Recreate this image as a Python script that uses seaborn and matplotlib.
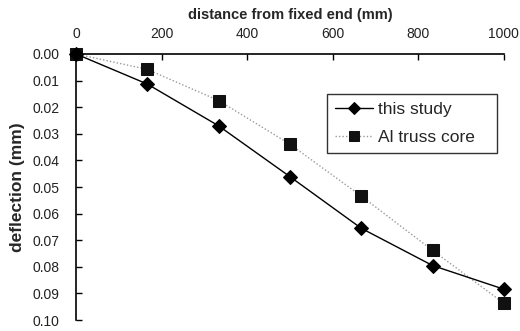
import numpy as np
import pandas as pd
import matplotlib
matplotlib.use("Agg")
import matplotlib.pyplot as plt
import seaborn as sns
from matplotlib.ticker import FormatStrFormatter

distance = [0, 166.7, 333.3, 500, 666.7, 833.3, 1000]
this_study = [0.0, 0.0113, 0.0270, 0.0461, 0.0655, 0.0795, 0.0884]
al_truss = [0.0, 0.0058, 0.0175, 0.0339, 0.0534, 0.0738, 0.0937]
x_ticks = [0, 200, 400, 600, 800, 1000]
y_ticks = [0.00, 0.01, 0.02, 0.03, 0.04, 0.05, 0.06, 0.07, 0.08, 0.09, 0.10]

sns.set_theme(style="white")
plt.rcParams['font.family'] = ['Liberation Sans', 'DejaVu Sans']

df = pd.DataFrame({
    "distance": distance * 2,
    "deflection": this_study + al_truss,
    "series": ["this study"] * len(distance) + ["Al truss core"] * len(distance),
})

fig = plt.figure(figsize=(5.2, 3.31), dpi=100)
ax = fig.add_axes([0.146, 0.033, 0.823, 0.804])

sns.lineplot(data=df[df.series == "this study"], x="distance", y="deflection",
             ax=ax, color="black", lw=1.0, marker="D", markersize=7.5,
             markeredgecolor="black", label="this study", clip_on=False, zorder=4)
sns.lineplot(data=df[df.series == "Al truss core"], x="distance", y="deflection",
             ax=ax, color="#9a9a9a", lw=1.0, linestyle=(0, (1, 1.5)), marker="s",
             markersize=9, markerfacecolor="#111111", markeredgecolor="#111111",
             label="Al truss core", clip_on=False, zorder=3)

ax.set_xlim(0, 1000)
ax.set_ylim(0.10, 0.0)
ax.set_xticks(x_ticks)
ax.set_yticks(y_ticks)
ax.yaxis.set_major_formatter(FormatStrFormatter("%.2f"))
ax.xaxis.set_ticks_position("top")
ax.xaxis.set_label_position("top")
ax.tick_params(axis="x", direction="in", length=4, width=1, color="black",
               labelsize=10, pad=9, top=True, bottom=False, labelcolor="#222222")
ax.tick_params(axis="y", direction="in", length=4, width=1, color="black",
               labelsize=10, pad=12, left=True, labelcolor="#222222")
for s in ["bottom", "right"]:
    ax.spines[s].set_visible(False)
for s in ["top", "left"]:
    ax.spines[s].set_color("black")
    ax.spines[s].set_linewidth(1.2)

ax.set_xlabel("distance from fixed end (mm)", fontsize=10.5, fontweight="bold",
              labelpad=6)
ax.set_ylabel("deflection (mm)", fontsize=12.5, fontweight="bold", labelpad=5)

leg = ax.legend(loc="upper left", bbox_to_anchor=(0.586, 0.85, 0.397, 0.0),
                mode="expand", borderaxespad=0.0, frameon=True,
                fancybox=False, edgecolor="black", fontsize=12.5,
                handlelength=2.2, borderpad=0.45, labelspacing=0.75,
                handletextpad=0.3, markerscale=0.8)
leg.get_frame().set_linewidth(1.0)

fig.savefig("out.png", dpi=100)
